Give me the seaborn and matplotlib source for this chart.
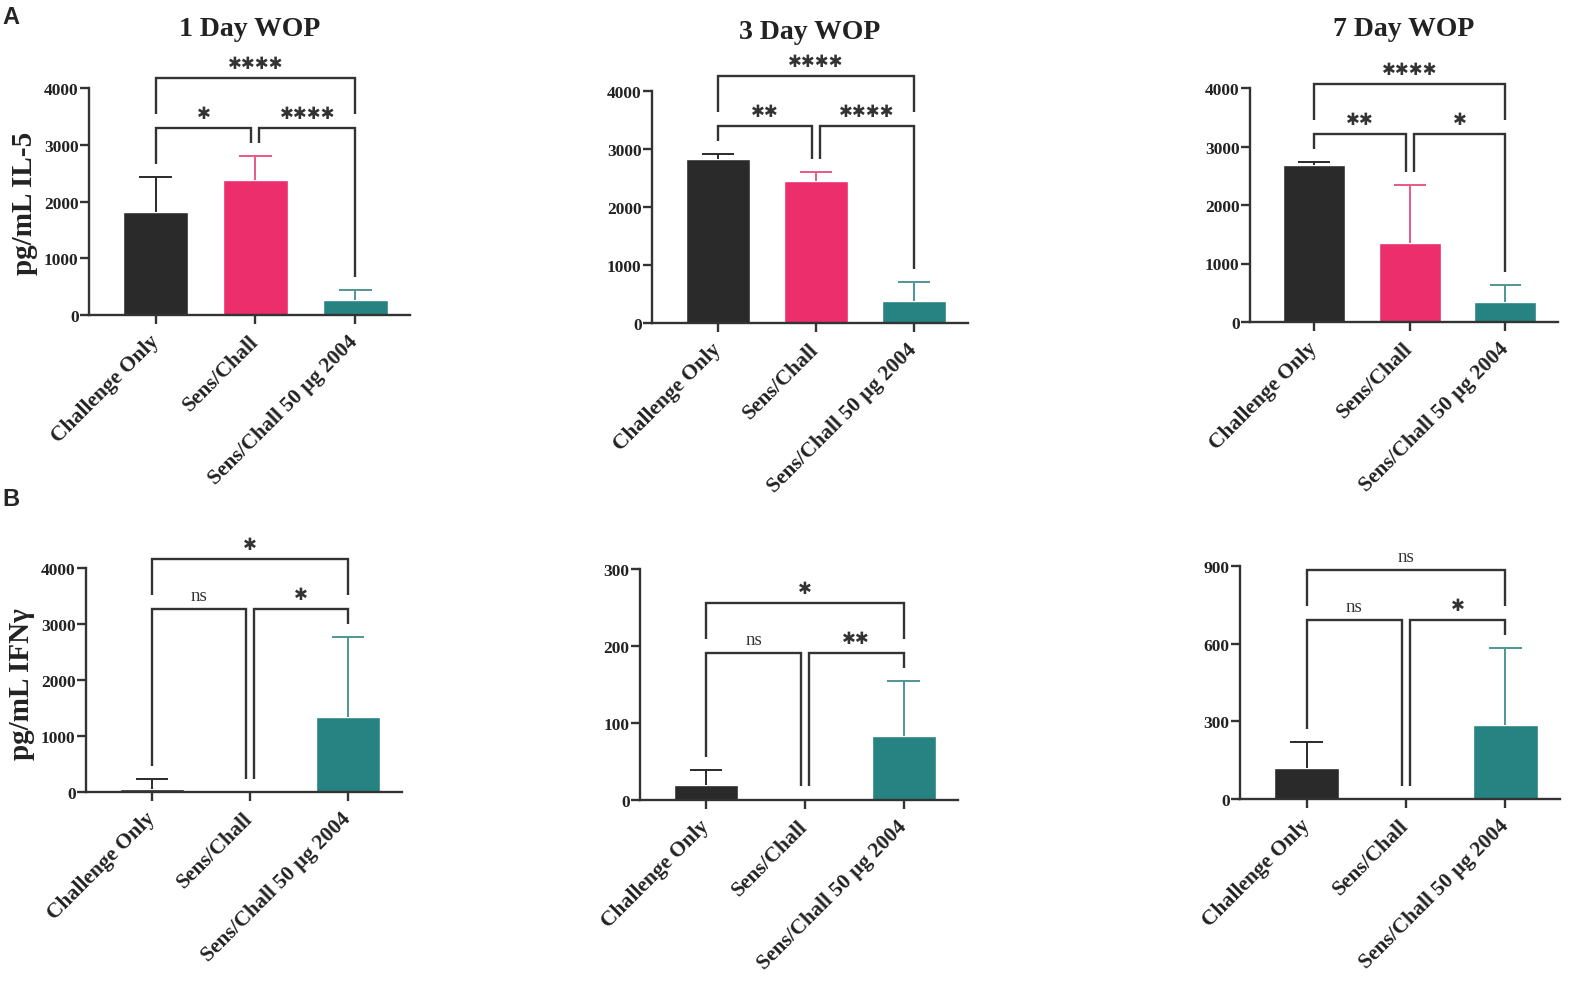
import numpy as np
import pandas as pd
import matplotlib
matplotlib.use("Agg")
import matplotlib.pyplot as plt
import seaborn as sns

# ── data ───────────────────────────────────────────────────
groups = ["Challenge Only", "Sens/Chall", "Sens/Chall 50 µg 2004"]
bar_colors = ["#2a2a2a", "#ec2e6c", "#268382"]
err_colors = ["#2a2a2a", "#e85a85", "#4f9695"]

titles = ["1 Day WOP", "3 Day WOP", "7 Day WOP"]

il5_d1_mean = [1823, 2381, 270]
il5_d1_sd   = [606, 413, 171]
il5_d3_mean = [2825, 2447, 372]
il5_d3_sd   = [86, 149, 333]
il5_d7_mean = [2690, 1351, 342]
il5_d7_sd   = [46, 986, 296]

ifn_d1_mean = [60, 0, 1339]
ifn_d1_sd   = [166, 0, 1428]
ifn_d3_mean = [20, 1, 83]
ifn_d3_sd   = [19.5, 0, 72]
ifn_d7_mean = [120, 0, 284]
ifn_d7_sd   = [99, 0, 300]

# significance: (CO vs SC, SC vs 50ug, CO vs 50ug)
sig_il5 = [["*", "****", "****"], ["**", "****", "****"], ["**", "*", "****"]]
sig_ifn = [["ns", "*", "*"], ["ns", "**", "*"], ["ns", "*", "ns"]]

il5_ticks = [0, 1000, 2000, 3000, 4000]
ifn_ticks = [[0, 1000, 2000, 3000, 4000], [0, 100, 200, 300], [0, 300, 600, 900]]

# ── style ──────────────────────────────────────────────────
sns.set_style("ticks")
plt.rcParams["font.family"] = ["Liberation Serif", "DejaVu Serif"]
plt.rcParams["font.weight"] = "bold"
LINE = "#333333"
TXT = "#222222"
LW = 1.7

W, H = 1594, 987
fig = plt.figure(figsize=(W / 100, H / 100), dpi=100)

# axes boxes in pixels: left, right, top, bottom
boxes = [
    [(89, 410, 89, 316), (652, 968, 92, 324), (1250, 1558, 89, 323)],
    [(86, 402, 569, 793), (640, 958, 570, 801), (1240, 1560, 567, 800)],
]
means = [[il5_d1_mean, il5_d3_mean, il5_d7_mean], [ifn_d1_mean, ifn_d3_mean, ifn_d7_mean]]
sds = [[il5_d1_sd, il5_d3_sd, il5_d7_sd], [ifn_d1_sd, ifn_d3_sd, ifn_d7_sd]]
sigs = [sig_il5, sig_ifn]
ticks = [[il5_ticks] * 3, ifn_ticks]


def bracket(ax, x0, x1, y, y0, y1, label, px):
    ax.plot([x0, x0, x1, x1], [y0, y, y, y1], color=LINE, lw=LW,
            clip_on=False, solid_joinstyle="miter", solid_capstyle="butt")
    if label == "ns":
        ax.text((x0 + x1) / 2, y + 9 * px, label, ha="center", va="baseline",
                fontsize=13.5, fontweight="normal", color=LINE, clip_on=False)
    else:
        ax.text((x0 + x1) / 2, y + 15 * px, "\u2731" * len(label), ha="center",
                va="center", fontsize=12, family=["DejaVu Sans"], color=LINE,
                clip_on=False)


for r in range(2):
    for c in range(3):
        l, rr, t, b = boxes[r][c]
        ax = fig.add_axes([l / W, 1 - b / H, (rr - l) / W, (b - t) / H])
        df = pd.DataFrame({"group": groups, "value": means[r][c]})
        sns.barplot(data=df, x="group", y="value", hue="group", order=groups,
                    hue_order=groups, palette=bar_colors, saturation=1,
                    width=0.65, errorbar=None, legend=False, ax=ax)
        m = np.array(means[r][c], dtype=float)
        s = np.array(sds[r][c], dtype=float)
        # one-sided SD bars, cap only at the top
        for i in range(3):
            if s[i] > 0:
                ax.vlines(i, m[i], m[i] + s[i], color=err_colors[i], lw=1.4, zorder=1)
                ax.hlines(m[i] + s[i], i - 0.165, i + 0.165, color=err_colors[i],
                          lw=1.4, zorder=1)
        ymax = ticks[r][c][-1]
        ax.set_ylim(0, ymax)
        ax.set_xlim(-0.67, 2.55)
        ax.set_yticks(ticks[r][c])
        ax.set_xlabel("")
        ax.set_ylabel("")
        sns.despine(ax=ax)
        for sp in ax.spines.values():
            sp.set_linewidth(LW)
            sp.set_color(LINE)
        ax.tick_params(axis="both", direction="out", length=6.5, width=LW, color=LINE)
        ax.tick_params(axis="y", labelsize=12.5, pad=1, labelcolor=TXT)
        ax.set_xticks(range(3))
        ax.set_xticklabels(groups, rotation=45, ha="right", va="center",
                           rotation_mode="anchor", fontsize=15.5, color=TXT)
        ax.tick_params(axis="x", pad=10)
        for lab in ax.get_yticklabels():
            lab.set_fontweight("bold")
        for lab in ax.get_xticklabels():
            lab.set_fontweight("bold")

        # brackets
        px = ymax / (b - t)
        tops = m + s
        low = tops.max() + 28 * px
        high = low + 50 * px
        g = 13 * px
        d = 0.04
        lab = sigs[r][c]
        bracket(ax, 0, 1 - d, low, tops[0] + g, tops[1] + g, lab[0], px)
        bracket(ax, 1 + d, 2, low, tops[1] + g, tops[2] + g, lab[1], px)
        bracket(ax, 0, 2, high, high - 36 * px, high - 36 * px, lab[2], px)

        if r == 0:
            ax.set_title(titles[c], fontsize=20, fontweight="bold", pad=38,
                         color=TXT)

fig.text(24 / W, 1 - 203 / H, "pg/mL IL-5", rotation=90, ha="center", va="center",
         fontsize=21, fontweight="bold", color=TXT)
fig.text(22 / W, 1 - 684 / H, "pg/mL IFNγ", rotation=90, ha="center", va="center",
         fontsize=21, fontweight="bold", color=TXT)
fig.text(2 / W, 1 - 18 / H, "A", ha="left", va="center", fontsize=17,
         fontweight="bold", family=["Liberation Sans"])
fig.text(2 / W, 1 - 500 / H, "B", ha="left", va="center", fontsize=17,
         fontweight="bold", family=["Liberation Sans"])

fig.savefig("out.png", dpi=100)
